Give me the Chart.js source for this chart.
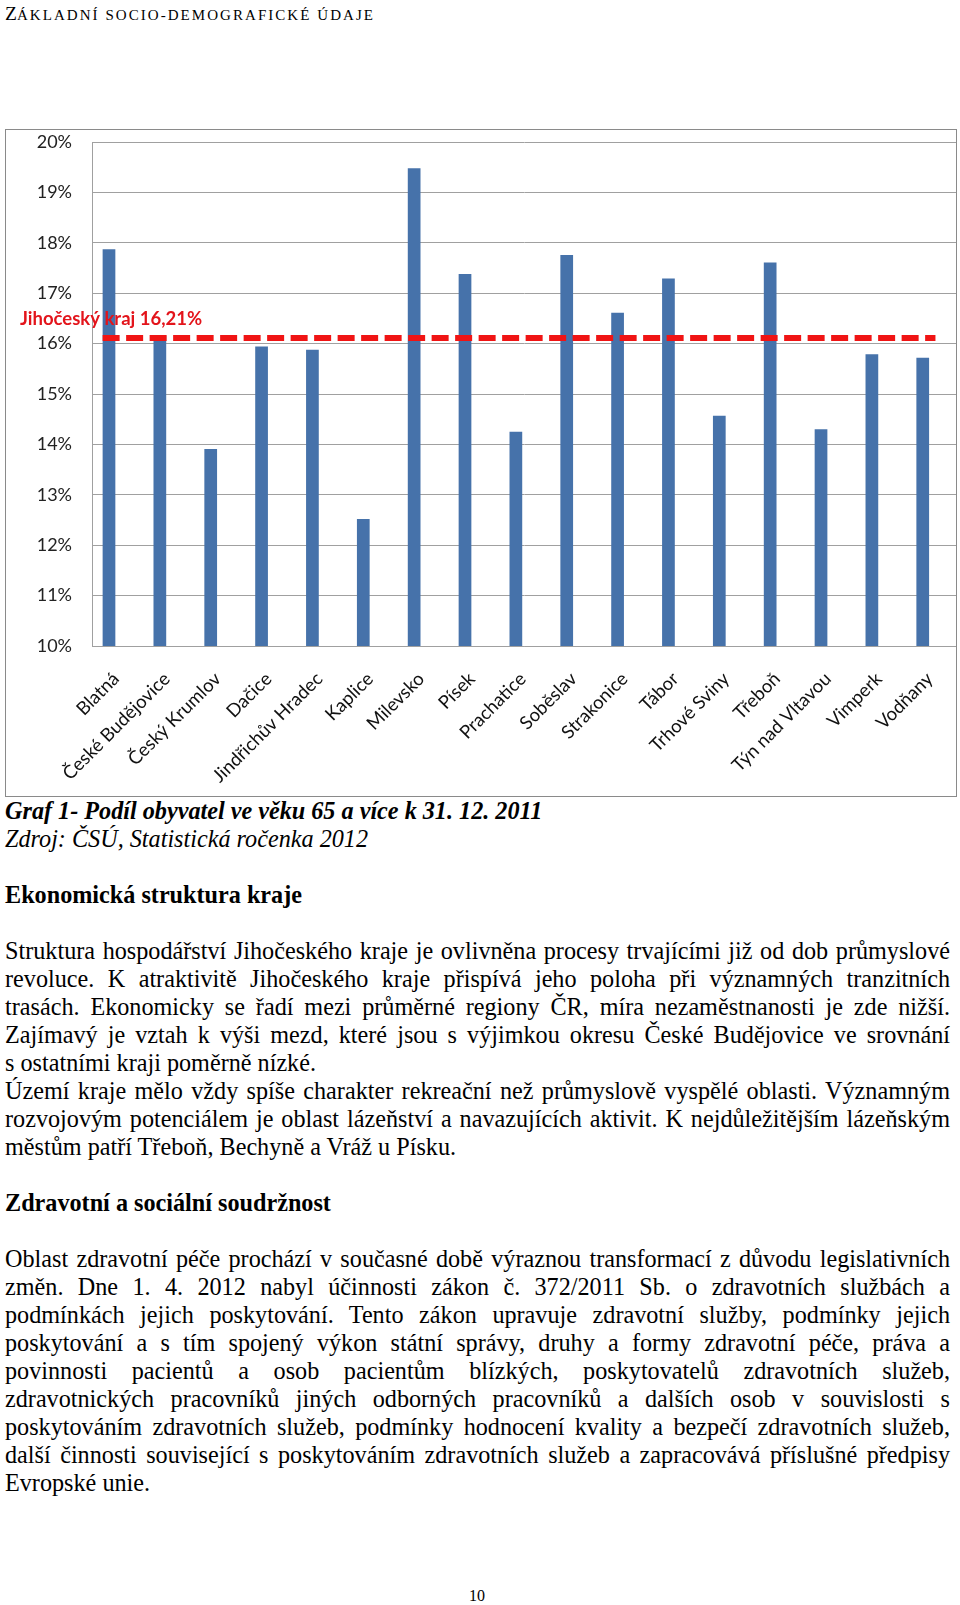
<!DOCTYPE html>
<html>
<head>
<meta charset="utf-8">
<script src="https://cdn.jsdelivr.net/npm/chart.js@4.4.1/dist/chart.umd.min.js"></script>
<style>
    body { margin: 0; background: #fff; width: 960px; height: 1605px; position: relative; overflow: hidden; }
    .serif { font-family: "Liberation Serif", "Times New Roman", serif; color: #000; }
    #header { position: absolute; left: 5px; top: 2px; line-height: 24px; white-space: nowrap; }
    #header .big { font-size: 19.5px; }
    #header .sc { font-size: 15px; letter-spacing: 2.05px; }
    #chartBox { position: absolute; left: 5px; top: 129px; width: 950px; height: 666px; border: 1px solid #8a8a8a; }
    #text { position: absolute; left: 5px; top: 797px; width: 945px; font-size: 24.2px; line-height: 28px; }
    #text div { height: 28px; white-space: nowrap; }
    #text .j { text-align: justify; text-align-last: justify; }
    #text .cap { font-weight: bold; font-style: italic; }
    #text .src { font-style: italic; }
    #text .h { font-weight: bold; }
    #pageNo { position: absolute; left: 0; top: 1587px; width: 954px; text-align: center; font-size: 16px; }
</style>
</head>
<body>

<div id="header" class="serif"><span class="big">Z</span><span class="sc">ÁKLADNÍ SOCIO-DEMOGRAFICKÉ ÚDAJE</span></div>

<div id="chartBox"><canvas id="ageChart"></canvas></div>

<div id="text" class="serif">
    <div class="cap">Graf 1- Podíl obyvatel ve věku 65 a více k 31. 12. 2011</div>
    <div class="src">Zdroj: ČSÚ, Statistická ročenka 2012</div>
    <div></div>
    <div class="h">Ekonomická struktura kraje</div>
    <div></div>
    <div class="j">Struktura hospodářství Jihočeského kraje je ovlivněna procesy trvajícími již od dob průmyslové</div>
    <div class="j">revoluce. K atraktivitě Jihočeského kraje přispívá jeho poloha při významných tranzitních</div>
    <div class="j">trasách. Ekonomicky se řadí mezi průměrné regiony ČR, míra nezaměstnanosti je zde nižší.</div>
    <div class="j">Zajímavý je vztah k výši mezd, které jsou s výjimkou okresu České Budějovice ve srovnání</div>
    <div>s ostatními kraji poměrně nízké.</div>
    <div class="j">Území kraje mělo vždy spíše charakter rekreační než průmyslově vyspělé oblasti. Významným</div>
    <div class="j">rozvojovým potenciálem je oblast lázeňství a navazujících aktivit. K nejdůležitějším lázeňským</div>
    <div>městům patří Třeboň, Bechyně a Vráž u Písku.</div>
    <div></div>
    <div class="h">Zdravotní a sociální soudržnost</div>
    <div></div>
    <div class="j">Oblast zdravotní péče prochází v současné době výraznou transformací z důvodu legislativních</div>
    <div class="j">změn. Dne 1. 4. 2012 nabyl účinnosti zákon č. 372/2011 Sb. o zdravotních službách a</div>
    <div class="j">podmínkách jejich poskytování. Tento zákon upravuje zdravotní služby, podmínky jejich</div>
    <div class="j">poskytování a s tím spojený výkon státní správy, druhy a formy zdravotní péče, práva a</div>
    <div class="j">povinnosti pacientů a osob pacientům blízkých, poskytovatelů zdravotních služeb,</div>
    <div class="j">zdravotnických pracovníků jiných odborných pracovníků a dalších osob v souvislosti s</div>
    <div class="j">poskytováním zdravotních služeb, podmínky hodnocení kvality a bezpečí zdravotních služeb,</div>
    <div class="j">další činnosti související s poskytováním zdravotních služeb a zapracovává příslušné předpisy</div>
    <div>Evropské unie.</div>
</div>

<div id="pageNo" class="serif">10</div>

<script>
// Podíl obyvatel ve věku 65+ podle obcí (v %)
const towns = ['Blatná', 'České Budějovice', 'Český Krumlov', 'Dačice', 'Jindřichův Hradec', 'Kaplice',
    'Milevsko', 'Písek', 'Prachatice', 'Soběslav', 'Strakonice', 'Tábor', 'Trhové Sviny', 'Třeboň',
    'Týn nad Vltavou', 'Vimperk', 'Vodňany'];
const shares = [17.87, 16.15, 13.91, 15.94, 15.88, 12.52, 19.48, 17.38, 14.25, 17.76, 16.61, 17.29,
    14.57, 17.61, 14.30, 15.79, 15.72];

// krajský průměr (čára kreslená na úrovni)
const regionLabel = 'Jihočeský kraj 16,21%';
const regionLine = 16.11;
const regionLineFrom = -0.125;
const regionLineTo = 16.25;

const yTicksMin = 10;
const yTicksMax = 20;

// Draw the red region label above the dashed line
const regionLabelPlugin = {
    id: 'regionLabel',
    afterDatasetsDraw(chart) {
        const ctx = chart.ctx;
        const y = chart.scales.y.getPixelForValue(regionLine);
        ctx.save();
        ctx.font = 'bold 18.5px Lato';
        ctx.fillStyle = '#e3141b';
        ctx.textBaseline = 'alphabetic';
        ctx.textAlign = 'left';
        ctx.fillText(regionLabel, 14, y - 13);
        ctx.restore();
    }
};

new Chart(document.getElementById('ageChart'), {
    type: 'bar',
    data: {
        datasets: [{
            type: 'line',
            label: regionLabel,
            data: [{ x: regionLineFrom, y: regionLine }, { x: regionLineTo, y: regionLine }],
            borderColor: '#f01414',
            borderWidth: 6,
            borderDash: [17, 6.5],
            borderCapStyle: 'butt',
            pointRadius: 0,
            fill: false,
            order: 0
        }, {
            label: 'Podíl 65+',
            data: shares.map((v, i) => ({ x: i, y: v })),
            backgroundColor: '#4672aa',
            barPercentage: 0.25,
            categoryPercentage: 1,
            order: 1
        }]
    },
    options: {
        responsive: true,
        maintainAspectRatio: false,
        animation: false,
        layout: { padding: { top: 12, left: 0, right: 0, bottom: 0 } },
        plugins: {
            legend: { display: false },
            tooltip: { enabled: false }
        },
        scales: {
            x: {
                type: 'linear',
                offset: false,
                min: -0.334,
                max: 16.654,
                grid: { display: false, drawTicks: false, offset: false },
                border: { display: true, color: '#a0a0a0', width: 1 },
                afterBuildTicks: scale => {
                    scale.ticks = towns.map((t, i) => ({ value: i }));
                },
                afterFit: scale => {
                    scale.height = 150;
                    scale.paddingLeft = 0;
                    scale.paddingRight = 0;
                },
                ticks: {
                    autoSkip: false,
                    maxRotation: 45,
                    minRotation: 45,
                    padding: 22,
                    labelOffset: 7,
                    color: '#111',
                    font: { family: 'Lato', size: 18.5 },
                    callback: value => towns[value]
                }
            },
            y: {
                min: yTicksMin,
                max: yTicksMax,
                grid: { color: '#a0a0a0', drawTicks: false },
                border: { display: true, color: '#a0a0a0', width: 1 },
                afterFit: scale => {
                    scale.width = 86;
                    scale.paddingTop = 0;
                    scale.paddingBottom = 0;
                },
                ticks: {
                    stepSize: 1,
                    padding: 20,
                    color: '#222',
                    font: { family: 'Lato', size: 18 },
                    callback: value => value + '%'
                }
            }
        }
    },
    plugins: [regionLabelPlugin]
});
</script>
</body>
</html>
